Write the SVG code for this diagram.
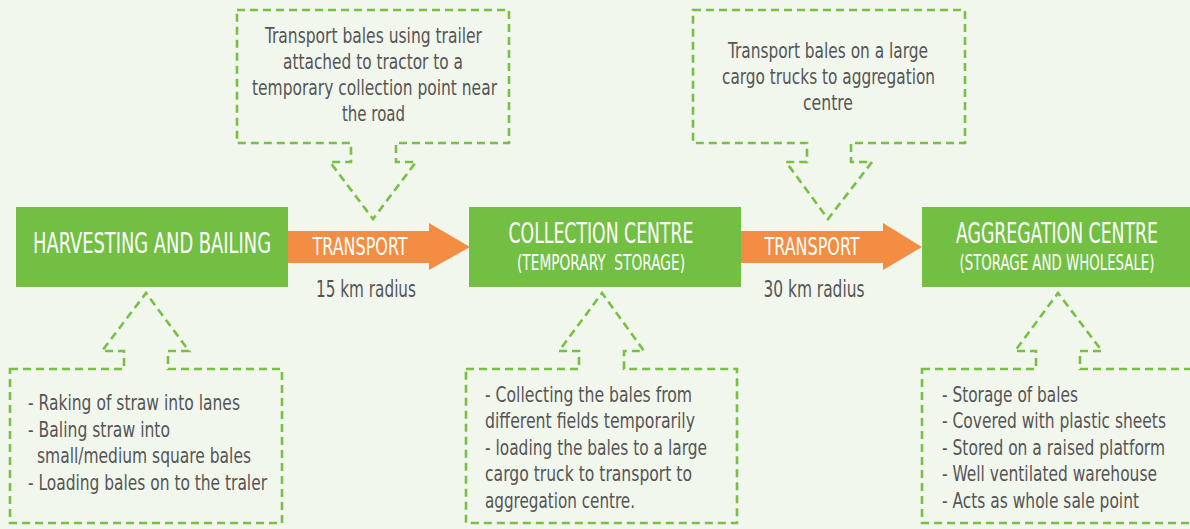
<svg xmlns="http://www.w3.org/2000/svg" width="1190" height="529" viewBox="0 0 1190 529">
<style>
.bg{fill:#f2f7ee}
.box{fill:#72bf44}
.call{fill:none;stroke:#76c043;stroke-width:2.6;stroke-dasharray:8 5;stroke-linejoin:miter}
.arr{fill:#f38d43}
text{font-family:"Liberation Sans Narrow","DejaVu Sans Condensed","Roboto",sans-serif}
.t{fill:#ffffff;font-size:28px;text-anchor:middle}
.s{fill:#ffffff;font-size:21px;text-anchor:middle}
.a{fill:#ffffff;font-size:24px;text-anchor:middle}
.r{fill:#555555;font-size:23px;text-anchor:middle}
.c{fill:#555555;font-size:22px;text-anchor:middle}
.l{fill:#555555;font-size:22px}
</style>
<rect class="bg" x="0" y="0" width="1190" height="529"/>

<g id="connectors">
  <g id="transport1">
    <polygon class="arr" points="288,231 429,231 429,223 470,247 429,270 429,263 288,263"/>
    <text class="a" x="360" y="255" textLength="95" lengthAdjust="spacingAndGlyphs">TRANSPORT</text>
    <text class="r" x="366" y="297" textLength="100" lengthAdjust="spacingAndGlyphs">15 km radius</text>
  </g>
  <g id="transport2">
    <polygon class="arr" points="741,231 883,231 883,223 922,247 883,270 883,263 741,263"/>
    <text class="a" x="812" y="255" textLength="95" lengthAdjust="spacingAndGlyphs">TRANSPORT</text>
    <text class="r" x="814" y="297" textLength="101" lengthAdjust="spacingAndGlyphs">30 km radius</text>
  </g>
</g>

<g id="harvesting">
  <rect class="box" x="16" y="207" width="272" height="80"/>
  <text class="t" x="152" y="253" textLength="238" lengthAdjust="spacingAndGlyphs">HARVESTING AND BAILING</text>
</g>

<g id="collection">
  <rect class="box" x="469" y="207" width="272" height="80"/>
  <text class="t" x="601" y="243" textLength="185" lengthAdjust="spacingAndGlyphs">COLLECTION CENTRE</text>
  <text class="s" x="601" y="270" textLength="168" lengthAdjust="spacingAndGlyphs" xml:space="preserve">(TEMPORARY  STORAGE)</text>
</g>

<g id="aggregation">
  <rect class="box" x="922" y="207" width="268" height="80"/>
  <text class="t" x="1057" y="243" textLength="202" lengthAdjust="spacingAndGlyphs">AGGREGATION CENTRE</text>
  <text class="s" x="1057" y="270" textLength="195" lengthAdjust="spacingAndGlyphs">(STORAGE AND WHOLESALE)</text>
</g>

<g id="note-transport1">
  <path class="call" d="M237,10 H509 V143 H396 V162 H416 L373,219 L330,162 H351 V143 H237 Z"/>
  <text class="c" x="373.5" y="43" textLength="217" lengthAdjust="spacingAndGlyphs">Transport bales using trailer</text>
  <text class="c" x="373" y="69" textLength="180" lengthAdjust="spacingAndGlyphs">attached to tractor to a</text>
  <text class="c" x="374.5" y="95" textLength="245" lengthAdjust="spacingAndGlyphs">temporary collection point near</text>
  <text class="c" x="373.5" y="121" textLength="63" lengthAdjust="spacingAndGlyphs">the road</text>
</g>

<g id="note-transport2">
  <path class="call" d="M693,10 H965 V143 H851 V162 H872 L828,219 L786,162 H807 V143 H693 Z"/>
  <text class="c" x="828" y="58" textLength="200" lengthAdjust="spacingAndGlyphs">Transport bales on a large</text>
  <text class="c" x="828.5" y="84" textLength="213" lengthAdjust="spacingAndGlyphs">cargo trucks to aggregation</text>
  <text class="c" x="828" y="110" textLength="50" lengthAdjust="spacingAndGlyphs">centre</text>
</g>

<g id="note-harvesting">
  <path class="call" d="M10,369 H124 V351 H102 L146,293 L189,351 H168 V369 H282 V523 H10 Z"/>
  <text class="l" x="28" y="410" textLength="212" lengthAdjust="spacingAndGlyphs">- Raking of straw into lanes</text>
  <text class="l" x="28" y="437" textLength="142" lengthAdjust="spacingAndGlyphs">- Baling straw into</text>
  <text class="l" x="37" y="463" textLength="214" lengthAdjust="spacingAndGlyphs">small/medium square bales</text>
  <text class="l" x="28" y="490" textLength="239" lengthAdjust="spacingAndGlyphs">- Loading bales on to the traler</text>
</g>

<g id="note-collection">
  <path class="call" d="M466,369 H579 V351 H559 L602,293 L644,351 H624 V369 H737 V523 H466 Z"/>
  <text class="l" x="485" y="402" textLength="207" lengthAdjust="spacingAndGlyphs">- Collecting the bales from</text>
  <text class="l" x="485" y="428" textLength="210" lengthAdjust="spacingAndGlyphs">different fields temporarily</text>
  <text class="l" x="485" y="455" textLength="222" lengthAdjust="spacingAndGlyphs">- loading the bales to a large</text>
  <text class="l" x="485" y="481" textLength="207" lengthAdjust="spacingAndGlyphs">cargo truck to transport to</text>
  <text class="l" x="485" y="508" textLength="150" lengthAdjust="spacingAndGlyphs">aggregation centre.</text>
</g>

<g id="note-aggregation">
  <path class="call" d="M922,369 H1036 V351 H1015 L1058,293 L1102,351 H1080 V369 H1194 V523 H922 Z"/>
  <text class="l" x="942" y="402" textLength="136" lengthAdjust="spacingAndGlyphs">- Storage of bales</text>
  <text class="l" x="942" y="428" textLength="224" lengthAdjust="spacingAndGlyphs">- Covered with plastic sheets</text>
  <text class="l" x="942" y="455" textLength="223" lengthAdjust="spacingAndGlyphs">- Stored on a raised platform</text>
  <text class="l" x="942" y="481" textLength="215" lengthAdjust="spacingAndGlyphs">- Well ventilated warehouse</text>
  <text class="l" x="942" y="508" textLength="197" lengthAdjust="spacingAndGlyphs">- Acts as whole sale point</text>
</g>
</svg>
